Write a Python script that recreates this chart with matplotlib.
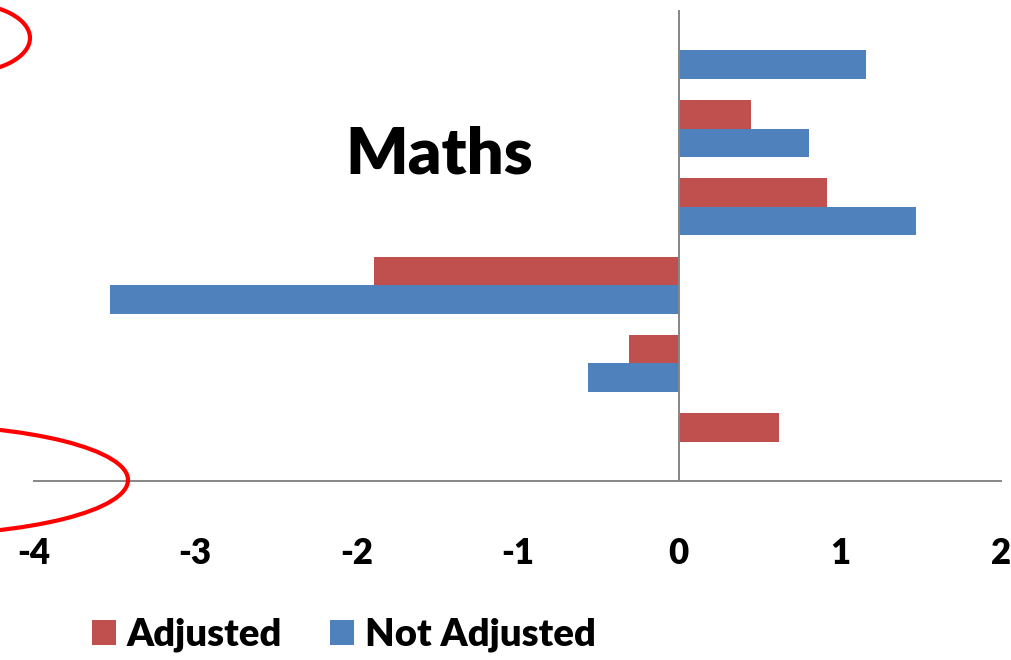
import numpy as np
import matplotlib.pyplot as plt
from matplotlib.patches import Ellipse

# scores per group, top to bottom (nan = no bar)
adjusted = [np.nan, 0.45, 0.92, -1.89, -0.31, 0.62]
not_adjusted = [1.16, 0.81, 1.47, -3.53, -0.56, np.nan]
series_names = ['Adjusted', 'Not Adjusted']
x_ticks = [-4, -3, -2, -1, 0, 1, 2]

red = '#C0504D'
blue = '#4F81BD'
axis_grey = '#868686'

plt.rcParams['font.family'] = ['Lato', 'DejaVu Sans']
plt.rcParams['font.weight'] = 'heavy'

W, H = 1012, 660
fig = plt.figure(figsize=(W / 100, H / 100), dpi=100)
ax = fig.add_axes([34 / W, (H - 481) / H, (1001 - 34) / W, (481 - 11) / H])

y = np.arange(len(adjusted))
h = 0.364
ax.barh(y - h / 2, adjusted, height=h, color=red, label=series_names[0])
ax.barh(y + h / 2, not_adjusted, height=h, color=blue, label=series_names[1])

ax.set_xlim(-4, 2)
ax.set_ylim(len(adjusted) - 0.5, -0.5)
ax.set_xticks(x_ticks)
ax.set_xticklabels([str(t) for t in x_ticks])
ax.set_yticks([])
ax.tick_params(axis='x', length=0, pad=40, labelsize=25)
for lab in ax.get_xticklabels():
    lab.set_fontweight('heavy')

for s in ['top', 'right']:
    ax.spines[s].set_visible(False)
ax.spines['left'].set_position(('data', 0))
for s in ['left', 'bottom']:
    ax.spines[s].set_color(axis_grey)
    ax.spines[s].set_linewidth(1.4)

fig.text(439 / W, 1 - 173 / H, 'Maths', ha='center', va='baseline',
         fontsize=47, fontweight='heavy')

leg = fig.legend(loc='center', bbox_to_anchor=(344 / W, 1 - 635 / H), ncol=2,
                 frameon=False, fontsize=27.5, handlelength=0.63, handleheight=0.63,
                 handletextpad=0.29, columnspacing=1.26)
for t in leg.get_texts():
    t.set_fontweight('heavy')

# red hand-drawn ovals on the left edge
over = fig.add_axes([0, 0, 1, 1], zorder=5)
over.set_xlim(0, W)
over.set_ylim(H, 0)
over.axis('off')
over.patch.set_alpha(0)
over.add_patch(Ellipse((-38, 38), 136, 70, fill=False, edgecolor='#FF0000', linewidth=3))
over.add_patch(Ellipse((-91, 480), 438, 110, fill=False, edgecolor='#FF0000', linewidth=3))

fig.savefig('out.png', dpi=100)
